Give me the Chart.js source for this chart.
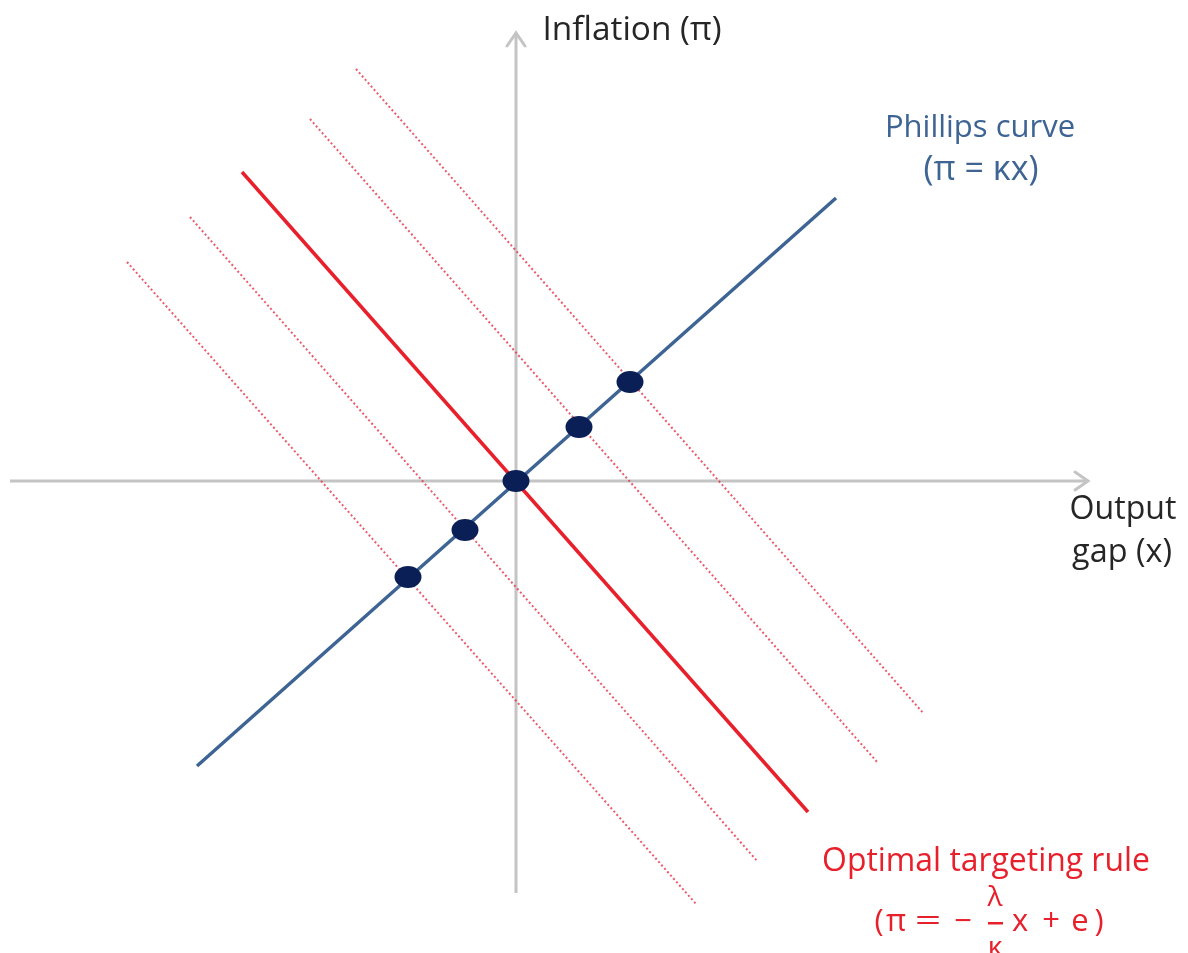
<!DOCTYPE html>
<html>
<head>
<meta charset="utf-8">
<script src="https://cdn.jsdelivr.net/npm/chart.js@4"></script>
<style>
  body { margin: 0; background: #fff; }
  #wrap { width: 1188px; height: 953px; position: relative; }
</style>
</head>
<body>
<div id="wrap"><canvas id="policyChart"></canvas></div>
<script>
// axis extents (data units, origin where the axes cross)
const xAxisEnds = [-5.06, 5.72];
const yAxisEnds = [-4.12, 4.48];

// Phillips curve endpoints
const phillipsX = [-3.19, 3.20];
const phillipsY = [-2.85, 2.83];

// equilibrium points on the Phillips curve
const dotX = [-1.08, -0.51, 0, 0.63, 1.14];
const dotY = [-0.96, -0.49, 0, 0.54, 0.99];

// optimal targeting rule lines (index 2 is the solid one, e = 0)
const ruleStartX = [-3.89, -3.26, -2.74, -2.06, -1.60];
const ruleStartY = [2.19, 2.64, 3.09, 3.62, 4.12];
const ruleEndX = [1.81, 2.42, 2.92, 3.62, 4.08];
const ruleEndY = [-4.24, -3.81, -3.31, -2.82, -2.33];
const solidRule = 2;

const axisGrey = '#c4c4c4';
const ruleRed = '#e8202c';
const curveBlue = '#3e6494';
const FONT = '"Open Sans", Lato, sans-serif';

// slightly wide ellipse for the dots
const dotImg = document.createElement('canvas');
dotImg.width = 30; dotImg.height = 24;
(function () {
  const c = dotImg.getContext('2d');
  c.fillStyle = '#0b1f57';
  c.beginPath();
  c.ellipse(15, 12, 13.5, 11, 0, 0, Math.PI * 2);
  c.fill();
})();

const datasets = [];

datasets.push({
  data: [{ x: xAxisEnds[0], y: 0 }, { x: xAxisEnds[1], y: 0 }],
  borderColor: axisGrey, borderWidth: 3, order: 10
});
datasets.push({
  data: [{ x: 0, y: yAxisEnds[0] }, { x: 0, y: yAxisEnds[1] }],
  borderColor: axisGrey, borderWidth: 3, order: 10
});

ruleStartX.forEach((sx, i) => {
  const solid = i === solidRule;
  datasets.push({
    data: [{ x: sx, y: ruleStartY[i] }, { x: ruleEndX[i], y: ruleEndY[i] }],
    borderColor: solid ? ruleRed : 'rgba(228,50,72,0.8)',
    borderWidth: solid ? 3.5 : 2,
    borderDash: solid ? [] : [2, 2.5],
    order: solid ? 4 : 5
  });
});

datasets.push({
  data: [{ x: phillipsX[0], y: phillipsY[0] }, { x: phillipsX[1], y: phillipsY[1] }],
  borderColor: curveBlue, borderWidth: 3.5, order: 2
});

datasets.push({
  data: dotX.map((x, i) => ({ x: x, y: dotY[i] })),
  showLine: false,
  pointRadius: 13,
  pointStyle: dotImg,
  order: 1
});

// draw text centred at (cx, cy), sized so it spans about `w` pixels
function fitText(ctx, text, cx, cy, w) {
  ctx.font = '30px ' + FONT;
  const size = Math.max(26, Math.min(34, 30 * w / ctx.measureText(text).width));
  ctx.font = size.toFixed(1) + 'px ' + FONT;
  ctx.fillText(text, cx, cy);
}

const labelPlugin = {
  id: 'labels',
  afterDatasetsDraw(chart) {
    const ctx = chart.ctx;
    const xs = chart.scales.x, ys = chart.scales.y;
    const ox = xs.getPixelForValue(0), oy = ys.getPixelForValue(0);
    const ax = xs.getPixelForValue(xAxisEnds[1]);
    const ay = ys.getPixelForValue(yAxisEnds[1]);

    // arrowheads
    ctx.save();
    ctx.strokeStyle = axisGrey;
    ctx.lineWidth = 3;
    ctx.lineCap = 'round';
    ctx.beginPath();
    ctx.moveTo(ax - 13, oy - 9); ctx.lineTo(ax, oy); ctx.lineTo(ax - 13, oy + 9);
    ctx.moveTo(ox - 9, ay + 13); ctx.lineTo(ox, ay); ctx.lineTo(ox + 9, ay + 13);
    ctx.stroke();

    ctx.textBaseline = 'middle';
    ctx.textAlign = 'center';
    ctx.fillStyle = '#262626';
    fitText(ctx, 'Inflation (\u03c0)', 632, 30, 179);
    fitText(ctx, 'Output', 1123, 510, 107);
    fitText(ctx, 'gap (x)', 1122, 553, 100);

    ctx.fillStyle = curveBlue;
    fitText(ctx, 'Phillips curve', 980, 128, 190);
    fitText(ctx, '(\u03c0 = \u03bax)', 981, 170, 123);

    ctx.fillStyle = ruleRed;
    fitText(ctx, 'Optimal targeting rule', 986, 862, 328);

    // (π = −λ/κ x + e), placed glyph by glyph
    ctx.font = '31px ' + FONT;
    const eq = [['(', 879], ['\u03c0', 896], ['\u2212', 963], ['x', 1020], ['+', 1051], ['e', 1080], [')', 1099]];
    eq.forEach(g => ctx.fillText(g[0], g[1], 922));
    ctx.save();
    ctx.translate(928, 922);
    ctx.scale(1.5, 1);
    ctx.fillText('=', 0, 0);
    ctx.restore();
    ctx.font = '28px ' + FONT;
    ctx.fillText('\u03bb', 995, 898);
    ctx.fillText('\u03ba', 995, 948);
    ctx.fillRect(988, 922, 15, 2.5);
    ctx.restore();
  }
};

new Chart(document.getElementById('policyChart'), {
  type: 'scatter',
  data: {
    datasets: datasets.map(d => Object.assign({ showLine: true, pointRadius: 0, fill: false }, d))
  },
  options: {
    responsive: true,
    maintainAspectRatio: false,
    animation: false,
    layout: { padding: 0, autoPadding: false },
    plugins: { legend: { display: false }, tooltip: { enabled: false } },
    scales: {
      x: { type: 'linear', min: -5.16, max: 6.72, display: false },
      y: { type: 'linear', min: -4.72, max: 4.81, display: false }
    }
  },
  plugins: [labelPlugin]
});
</script>
</body>
</html>
